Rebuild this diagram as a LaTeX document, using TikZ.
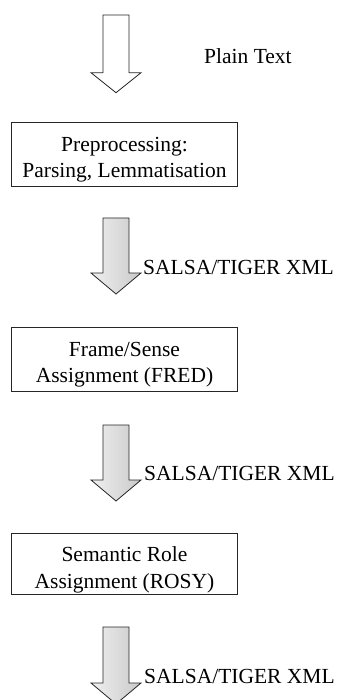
\documentclass[tikz,border=0pt]{standalone}
\usepackage{fontspec}
\setmainfont{Liberation Serif}
\newcommand\blockarrow[4]{%
  \draw[#1] (103,#2) -- (129,#2) -- (129,#3) -- (141,#3) -- (116,#4) -- (91,#3) -- (103,#3) -- cycle;}
\begin{document}
\begin{tikzpicture}[x=1pt,y=-1pt,
  box/.style={draw=black!85, line width=0.9pt, minimum width=226.4pt, inner sep=0pt},
  lbl/.style={font=\fontsize{21.5}{26.5}\selectfont, inner sep=0pt, align=center},
  plainarrow/.style={draw=black!85, line width=0.8pt, fill=white},
  shadedarrow/.style={draw=black!85, line width=0.8pt, left color=gray!12, right color=gray!42},
]
\clip (0,0) rectangle (340,700);
\fill[white] (0,0) rectangle (340,700);

% boxes
\node[box, minimum height=63.7pt] (b1) at (124.5,154.15) {};
\node[box, minimum height=64.2pt] (b2) at (124.5,359.4) {};
\node[box, minimum height=60.7pt] (b3) at (124.5,563.65) {};

% text (base anchor = last line baseline)
\node[lbl, anchor=base] (t1) at (124.5,178) {Preprocessing:\\Parsing, Lemmatisation};
\node[lbl, anchor=base] (t2) at (124.5,382.7) {Frame/Sense\\Assignment (FRED)};
\node[lbl, anchor=base] (t3) at (124.5,588.3) {Semantic Role\\Assignment (ROSY)};

% block arrows
\blockarrow{plainarrow}{15}{72.7}{92.7}
\blockarrow{shadedarrow}{218}{273}{294}
\blockarrow{shadedarrow}{425}{480}{501}
\blockarrow{shadedarrow}{627}{683}{704}

% labels
\node[lbl, anchor=base west] (l0) at (204,63.3) {Plain Text};
\node[lbl, anchor=base west] (l1) at (143,274) {SALSA/TIGER XML};
\node[lbl, anchor=base west] (l2) at (144,480) {SALSA/TIGER XML};
\node[lbl, anchor=base west] (l3) at (144,683) {SALSA/TIGER XML};
\end{tikzpicture}
\end{document}
